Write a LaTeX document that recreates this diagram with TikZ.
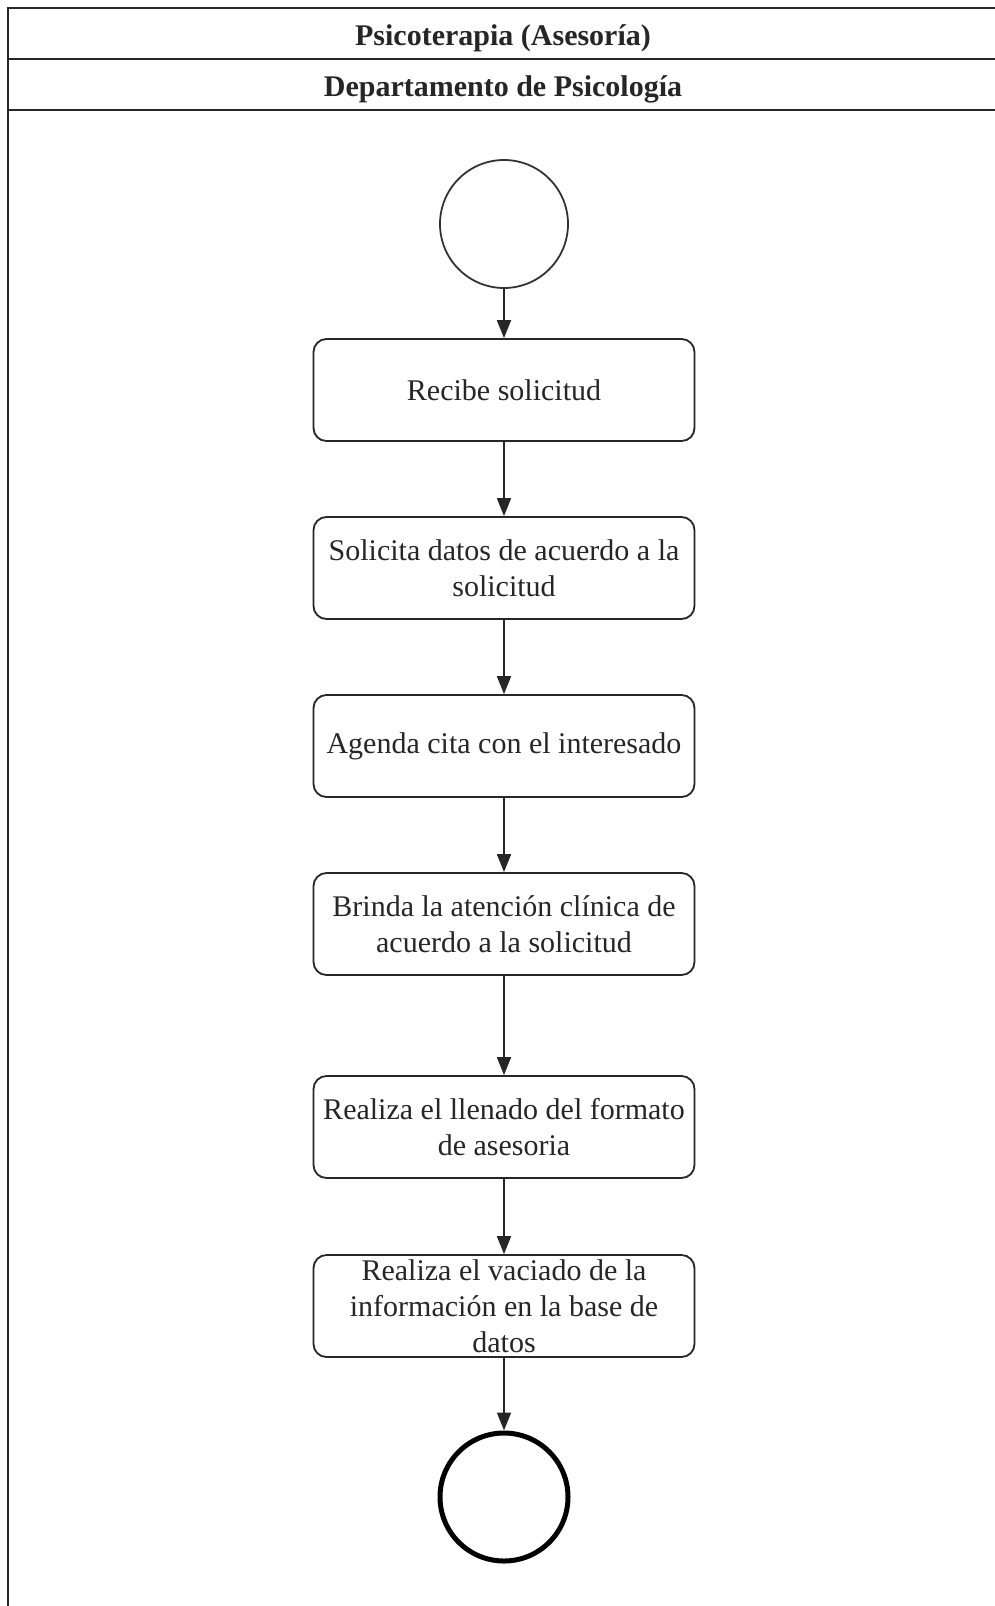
\documentclass[tikz,border=0pt]{standalone}
\usepackage{fontspec}
\setmainfont{Liberation Serif}
\usetikzlibrary{arrows.meta}
\begin{document}
\begin{tikzpicture}[x=1pt,y=-1pt,
  frameline/.style={line width=2pt, draw=black!85},
  actbox/.style={draw=black!85, line width=1.8pt, rounded corners=13pt, minimum width=381pt, minimum height=102pt, inner sep=0pt},
  acttext/.style={font=\fontsize{30}{36}\selectfont, text=black!85, align=center, inner sep=0pt},
  headtext/.style={font=\fontsize{30}{36}\selectfont\bfseries, text=black!85, inner sep=0pt},
  flow/.style={line width=1.8pt, draw=black!85, -{Triangle[length=18pt,width=14pt]}},
  startnode/.style={circle, draw=black!80, line width=1.8pt, minimum size=128pt, inner sep=0pt},
  endnode/.style={circle, draw=black, line width=5pt, minimum size=128pt, inner sep=0pt}
]
\useasboundingbox (0,0) rectangle (995,1606);
\fill[white] (0,0) rectangle (995,1606);
% frame
\draw[frameline] (995,8) -- (8,8) -- (8,1606);
\draw[frameline] (8,59) -- (995,59);
\draw[frameline] (8,110) -- (995,110);
\node[headtext] (h1) at (503,38) {Psicoterapia (Asesoría)};
\node[headtext] (h2) at (503,89) {Departamento de Psicología};
% nodes
\node[startnode] (s) at (504,224) {};
\node[actbox] (b1) at (504,390) {};
\node[acttext] (t1) at (b1.center) {Recibe solicitud};
\node[actbox] (b2) at (504,568) {};
\node[acttext] (t2) at (b2.center) {Solicita datos de acuerdo a la\\solicitud};
\node[actbox] (b3) at (504,746) {};
\node[acttext] (t3) at (b3.center) {Agenda cita con el interesado};
\node[actbox] (b4) at (504,924) {};
\node[acttext] (t4) at (b4.center) {Brinda la atención clínica de\\acuerdo a la solicitud};
\node[actbox] (b5) at (504,1127) {};
\node[acttext] (t5) at (b5.center) {Realiza el llenado del formato\\de asesoria};
\node[actbox] (b6) at (504,1306) {};
\node[acttext] (t6) at (b6.center) {Realiza el vaciado de la\\información en la base de\\datos};
\node[endnode] (e) at (504,1497) {};
% connectors
\draw[flow] (s) -- (b1);
\draw[flow] (b1) -- (b2);
\draw[flow] (b2) -- (b3);
\draw[flow] (b3) -- (b4);
\draw[flow] (b4) -- (b5);
\draw[flow] (b5) -- (b6);
\draw[flow] (b6) -- (e);
\end{tikzpicture}
\end{document}
